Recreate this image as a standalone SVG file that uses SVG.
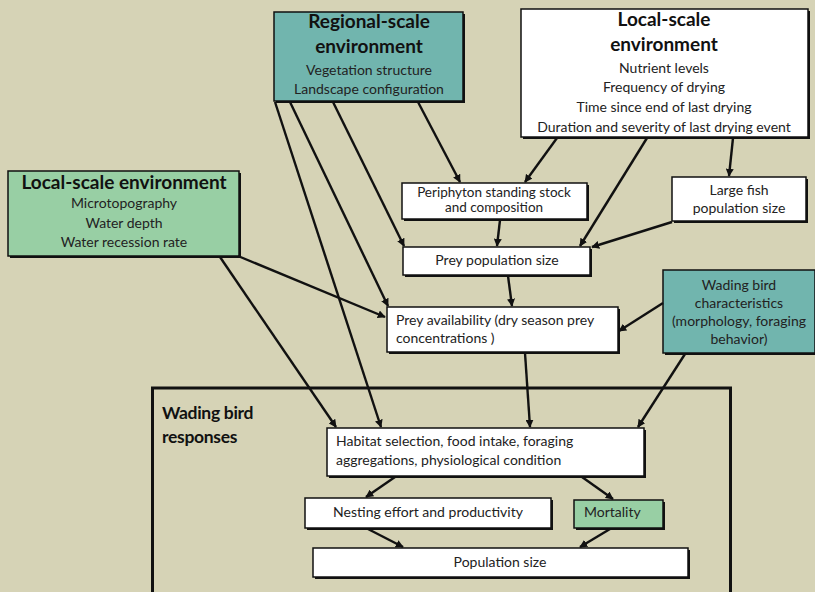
<svg xmlns="http://www.w3.org/2000/svg" width="815" height="592" viewBox="0 0 815 592">
<defs>
<marker id="ah" viewBox="0 0 10 10" refX="9" refY="5" markerWidth="8" markerHeight="8" markerUnits="userSpaceOnUse" orient="auto">
<path d="M0,0 L10,5 L0,10 z" fill="#111"/>
</marker>
<style>
.bg{fill:#d6d3b6}
.sh{fill:#111}
.box{stroke:#111;stroke-width:1.5}
.w{fill:#ffffff}
.teal{fill:#71b5ae}
.green{fill:#98cfa4}
text{font-family:Lato,"Open Sans","Liberation Sans",sans-serif;fill:#222;font-size:14px}
.c{text-anchor:middle}
.h{font-weight:bold;font-size:19px;fill:#111}
.hs{font-weight:bold;font-size:17.5px;fill:#111;letter-spacing:-0.3px}
.sm{font-size:13.5px}
.con line{stroke:#111;stroke-width:2.4;marker-end:url(#ah)}
</style>
</defs>
<rect class="bg" x="0" y="0" width="815" height="592"/>

<g id="responses-container">
<rect x="152.5" y="388" width="578" height="220" fill="none" stroke="#111" stroke-width="3"/>
<text class="hs" x="162" y="419">Wading bird</text>
<text class="hs" x="162" y="443">responses</text>
</g>

<g id="regional">
<rect class="sh" x="276" y="14" width="189" height="89"/>
<rect class="box teal" x="274" y="12" width="189" height="89"/>
<text class="h c" x="369" y="28">Regional-scale</text>
<text class="h c" x="369" y="53">environment</text>
<text class="c" x="369" y="75">Vegetation structure</text>
<text class="c" x="369" y="94">Landscape configuration</text>
</g>

<g id="local-top">
<rect class="sh" x="523" y="11" width="287" height="128"/>
<rect class="box w" x="521" y="9" width="287" height="128"/>
<text class="h c" x="664" y="26">Local-scale</text>
<text class="h c" x="664" y="51">environment</text>
<text class="c" x="664" y="73">Nutrient levels</text>
<text class="c" x="664" y="92">Frequency of drying</text>
<text class="c" x="664" y="112">Time since end of last drying</text>
<text class="c" x="664" y="132">Duration and severity of last drying event</text>
</g>

<g id="local-left">
<rect class="sh" x="10" y="173" width="231" height="85"/>
<rect class="box green" x="8" y="171" width="231" height="85"/>
<text class="h c" x="124" y="189">Local-scale environment</text>
<text class="c" x="124" y="208">Microtopography</text>
<text class="c" x="124" y="228">Water depth</text>
<text class="c" x="124" y="247">Water recession rate</text>
</g>

<g id="periphyton">
<rect class="sh" x="404" y="185" width="185" height="36"/>
<rect class="box w" x="402" y="183" width="185" height="36"/>
<text class="c sm" x="494" y="197">Periphyton standing stock</text>
<text class="c sm" x="494" y="212">and composition</text>
</g>

<g id="large-fish">
<rect class="sh" x="674" y="179" width="134" height="44"/>
<rect class="box w" x="672" y="177" width="134" height="44"/>
<text class="c" x="739" y="195">Large fish</text>
<text class="c" x="739" y="213">population size</text>
</g>

<g id="prey-pop">
<rect class="sh" x="405" y="249" width="187" height="28"/>
<rect class="box w" x="403" y="247" width="187" height="28"/>
<text class="c" x="497" y="265">Prey population size</text>
</g>

<g id="prey-avail">
<rect class="sh" x="389" y="309" width="231" height="45"/>
<rect class="box w" x="387" y="307" width="231" height="45"/>
<text x="396" y="325">Prey availability (dry season prey</text>
<text x="396" y="343">concentrations )</text>
</g>

<g id="bird-char">
<rect class="sh" x="665" y="272" width="152" height="83"/>
<rect class="box teal" x="663" y="270" width="152" height="83"/>
<text class="c" x="739" y="290">Wading bird</text>
<text class="c" x="739" y="308">characteristics</text>
<text class="c" x="739" y="326">(morphology, foraging</text>
<text class="c" x="739" y="344">behavior)</text>
</g>

<g id="habitat">
<rect class="sh" x="329" y="430" width="317" height="48"/>
<rect class="box w" x="327" y="428" width="317" height="48"/>
<text x="336" y="446">Habitat selection, food intake, foraging</text>
<text x="336" y="465">aggregations, physiological condition</text>
</g>

<g id="nesting">
<rect class="sh" x="307" y="500" width="246" height="30"/>
<rect class="box w" x="305" y="498" width="246" height="30"/>
<text class="c" x="428" y="517">Nesting effort and productivity</text>
</g>

<g id="mortality">
<rect class="sh" x="576" y="502" width="89" height="28"/>
<rect class="box green" x="574" y="500" width="89" height="28"/>
<text x="584" y="517">Mortality</text>
</g>

<g id="population">
<rect class="sh" x="315" y="550" width="375" height="29"/>
<rect class="box w" x="313" y="548" width="375" height="29"/>
<text class="c" x="500" y="567">Population size</text>
</g>

<g id="connectors" class="con">
<line x1="418" y1="102" x2="460" y2="182"/>
<line x1="333" y1="102" x2="404" y2="246"/>
<line x1="290" y1="102" x2="388" y2="306"/>
<line x1="275" y1="102" x2="381" y2="427"/>
<line x1="238" y1="256" x2="385" y2="317"/>
<line x1="220" y1="257" x2="336" y2="427"/>
<line x1="557" y1="138" x2="525" y2="182"/>
<line x1="647" y1="138" x2="580" y2="246"/>
<line x1="733" y1="138" x2="729" y2="176"/>
<line x1="672" y1="222" x2="592" y2="247"/>
<line x1="500" y1="220" x2="497" y2="246"/>
<line x1="508" y1="276" x2="512" y2="306"/>
<line x1="663" y1="303" x2="619" y2="331"/>
<line x1="525" y1="353" x2="530" y2="427"/>
<line x1="685" y1="354" x2="638" y2="427"/>
<line x1="395" y1="477" x2="366" y2="497"/>
<line x1="582" y1="477" x2="613" y2="499"/>
<line x1="368" y1="529" x2="403" y2="547"/>
<line x1="610" y1="529" x2="580" y2="547"/>
</g>
</svg>
